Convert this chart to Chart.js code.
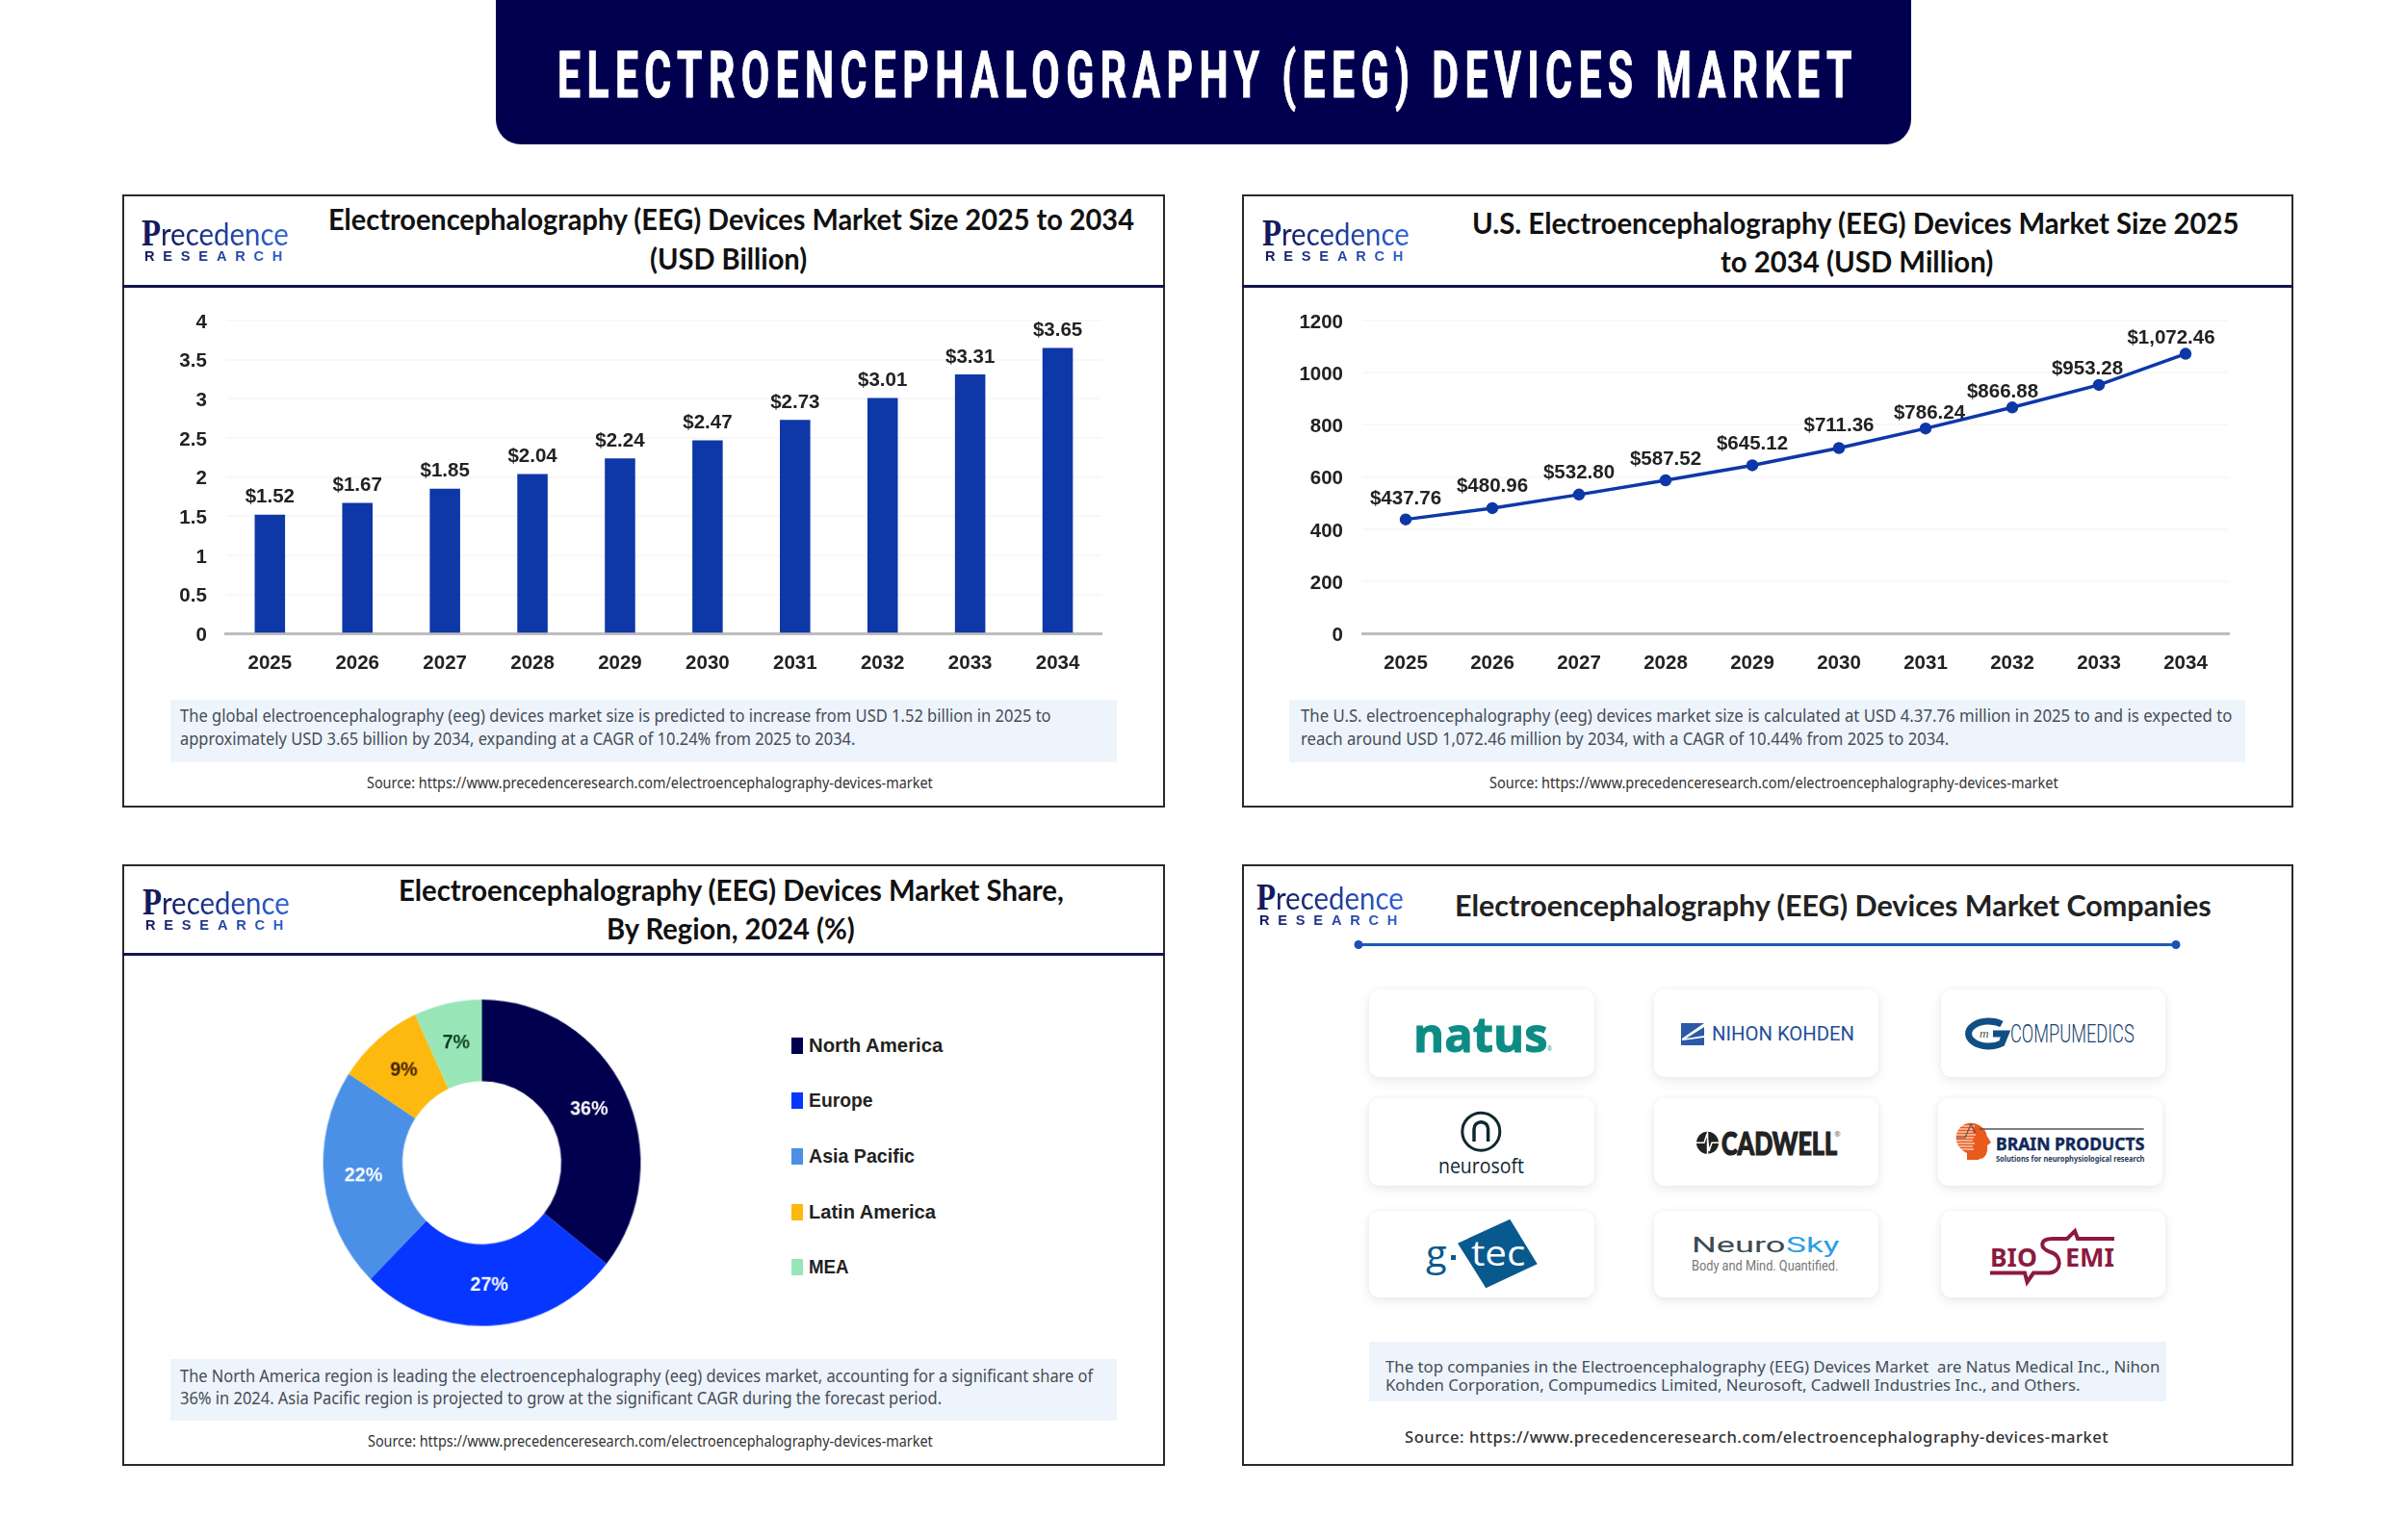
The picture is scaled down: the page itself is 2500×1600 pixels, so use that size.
<!DOCTYPE html>
<html>
<head>
<meta charset="utf-8">
<title>Electroencephalography (EEG) Devices Market</title>
<script src="https://cdn.jsdelivr.net/npm/chart.js@4"></script>
<style>
html, body { margin: 0; padding: 0; background: #fff; }
#page { position: relative; width: 2500px; height: 1600px; overflow: hidden; background: #fff; }
.abs { position: absolute; box-sizing: border-box; }
canvas { position: absolute; }
#banner { background: #00004f; border-radius: 26px; }
.panel { border: 2px solid #2a2a2a; background: #fff; }
.rule { height: 3px; background: #14144f; }
.note { background: #eef4fb; }
.card { background: #fff; border-radius: 11px; box-shadow: 0 4px 12px rgba(40,40,60,.09), 0 0 6px rgba(40,40,60,.04); }
#overlay { position: absolute; left: 0; top: 0; }
.line { position: absolute; white-space: nowrap; line-height: 1; transform-origin: left center; }
.head { font: 700 67px Roboto, sans-serif; letter-spacing: 10px; color: #fff; -webkit-text-stroke: 1px #fff; }
.title { font: 700 31px Lato, sans-serif; color: #111; }
.title4 { font: 700 31px Lato, sans-serif; color: #222; }
.body { font: 400 17.5px "Noto Sans", sans-serif; color: #454d58; }
.src { font: 400 15.5px "Noto Sans", sans-serif; color: #333; }
.src4 { font: 500 16px "Noto Sans", sans-serif; color: #333; letter-spacing: .5px; }
.legend { font: 700 19.6px "Liberation Sans", sans-serif; color: #222; }
.lgP { font: 700 41px "Liberation Serif", serif; color: #141a5e; }
.lgTop { font: 400 33px Lato, sans-serif; color: transparent; background: linear-gradient(90deg, #141a5e, #2f63d8); -webkit-background-clip: text; background-clip: text; }
.lgBot { font: 700 15px "Liberation Sans", sans-serif; letter-spacing: 9px; color: transparent; background: linear-gradient(90deg, #141a5e, #2f63d8); -webkit-background-clip: text; background-clip: text; }
</style>
</head>
<body>
<div id="page">
  <svg id="overlay" width="2500" height="1600" style="z-index:2">
    <!-- companies divider -->
    <line x1="1411" y1="981.5" x2="2260" y2="981.5" stroke="#1c5cb8" stroke-width="3"/>
    <circle cx="1411" cy="981.5" r="4.5" fill="#1c4fb8"/>
    <circle cx="2260" cy="981.5" r="4.5" fill="#1c4fb8"/>
    <!-- nihon kohden mark -->
    <rect x="1746" y="1063" width="24" height="23" fill="#2a5aa8"/>
    <polygon points="1770,1063 1770,1067 1751,1079 1770,1076 1770,1078 1747,1081 1747,1079" fill="#fff"/>
    <!-- compumedics mark -->
    <path d="M2079 1064 A21 13 0 1 0 2079 1084 L2083 1074 H2070" fill="none" stroke="#0f4f85" stroke-width="7"/>
    <!-- neurosoft mark -->
    <circle cx="1538.3" cy="1175.7" r="19.5" fill="none" stroke="#10282e" stroke-width="3"/>
    <path d="M1531 1186 V1173 a7.3 7.3 0 0 1 14.6 0 V1186" fill="none" stroke="#10282e" stroke-width="3.5"/>
    <!-- cadwell mark -->
    <circle cx="1773.5" cy="1187.3" r="11.5" fill="#222"/>
    <path d="M1762 1187.3 H1770 L1773 1178 L1775 1196 L1778 1187.3 H1785 M1773.5 1176 V1199" fill="none" stroke="#fff" stroke-width="1.5"/>
    <!-- brain products mark -->
    <path d="M2046.7 1166.7 C2056 1167 2063 1173 2063.5 1180 L2068 1187 L2064 1190 C2065 1197 2062 1204 2056 1204 L2055 1205 H2043 L2043 1198 C2034 1194 2031 1186 2031.7 1180 C2033 1172 2039 1167 2046.7 1166.7 Z" fill="#ea5a1c"/>
    <path d="M2031 1170 H2051 M2031 1173 H2050 M2031 1176 H2049 M2031 1179 H2052 M2031 1182 H2050 M2031 1185 H2049 M2031 1188 H2051 M2031 1191 H2049 M2031 1194 H2050" stroke="#fff" stroke-width="1.2"/>
    <path d="M2032 1182 H2041 L2047 1168 L2052 1177" fill="none" stroke="#555" stroke-width="1.2"/>
    <line x1="2056" y1="1173" x2="2226.7" y2="1173" stroke="#555" stroke-width="1.5"/>
    <!-- g.tec mark -->
    <polygon points="1568.3,1266.7 1596.7,1313.3 1543.3,1338.3 1514,1291.7" fill="#085a8e"/>
    <rect x="1507" y="1304" width="5" height="5" fill="#085a8e"/>
    <!-- biosemi mark -->
    <path d="M2067 1322.5 H2103 L2105.5 1332 L2112 1322.5 H2128 C2142 1322 2142 1304 2130 1301 C2118 1297 2118 1287 2132 1287 H2147 L2155 1279 L2158 1287 H2196" fill="none" stroke="#8c1a3f" stroke-width="4"/>
  </svg>
</div>

<script>
const years = ["2025","2026","2027","2028","2029","2030","2031","2032","2033","2034"];
const marketSizeBillion = [1.52, 1.67, 1.85, 2.04, 2.24, 2.47, 2.73, 3.01, 3.31, 3.65];
const usMarketSizeMillion = [437.76, 480.96, 532.80, 587.52, 645.12, 711.36, 786.24, 866.88, 953.28, 1072.46];
const regions = ["North America","Europe","Asia Pacific","Latin America","MEA"];
const regionShares = [36, 27, 22, 9, 7];
const regionColors = ["#00004f","#0636ff","#4a90e6","#fdb90f","#98e6b8"];
const regionLabelColors = ["#fff","#fff","#fff","#3a1c00","#0b3d20"];

const page = document.getElementById("page");
const BLUE = "#0e37a8";
const LABEL_FONT = '700 20.5px "Liberation Sans", sans-serif';
const TICK_COLOR = "#222";

function box(cls, x, y, w, h) {
    const el = document.createElement("div");
    el.className = "abs " + cls;
    el.style.left = x + "px";
    el.style.top = y + "px";
    if (w) el.style.width = w + "px";
    if (h) el.style.height = h + "px";
    page.appendChild(el);
    return el;
}

// one line of text squeezed to span x1..x2, centred on y
function line(text, cls, x1, x2, y, extra) {
    const el = document.createElement("span");
    el.className = "line " + cls;
    el.textContent = text;
    el.style.left = x1 + "px";
    el.style.top = y + "px";
    el.style.zIndex = 3;
    if (extra) el.style.cssText += extra;
    page.appendChild(el);
    const k = (x2 - x1) / el.offsetWidth;
    el.style.transform = `translateY(-50%) scaleX(${k})`;
    return el;
}

function logo(x, y) {
    line("P", "lgP", x, x + 20, y + 13);
    line("recedence", "lgTop", x + 20, x + 153, y + 14);
    line("RESEARCH", "lgBot", x + 3, x + 155, y + 37);
}

// panels
box("", 515, -30, 1470, 180).id = "banner";
line("ELECTROENCEPHALOGRAPHY (EEG) DEVICES MARKET", "head", 579, 1930, 78);

box("panel", 126.5, 202, 1083, 637);
box("panel", 1290, 202, 1092, 637);
box("panel", 126.5, 898, 1083, 625);
box("panel", 1290, 898, 1092, 625);
box("rule", 126.5, 296, 1083);
box("rule", 1290, 296, 1092);
box("rule", 126.5, 990, 1083);

logo(147, 228);
logo(1311, 228);
logo(148, 923);
logo(1305, 918);

line("Electroencephalography (EEG) Devices Market Size 2025 to 2034", "title", 341, 1178, 227);
line("(USD Billion)", "title", 675, 838, 268);
line("U.S. Electroencephalography (EEG) Devices Market Size 2025", "title", 1529, 2325, 231);
line("to 2034 (USD Million)", "title", 1787, 2070, 271);
line("Electroencephalography (EEG) Devices Market Share,", "title", 414, 1105, 924);
line("By Region, 2024 (%)", "title", 630, 888, 964);
line("Electroencephalography (EEG) Devices Market Companies", "title4", 1511, 2297, 940);

// summary boxes and source lines
box("note", 177, 727, 983, 65);
line("The global electroencephalography (eeg) devices market size is predicted to increase from USD 1.52 billion in 2025 to", "body", 187, 1092, 743);
line("approximately USD 3.65 billion by 2034, expanding at a CAGR of 10.24% from 2025 to 2034.", "body", 187, 888, 767);
line("Source: https://www.precedenceresearch.com/electroencephalography-devices-market", "src", 381, 969, 813);

box("note", 1339, 727, 993, 65);
line("The U.S. electroencephalography (eeg) devices market size is calculated at USD 4.37.76 million in 2025 to and is expected to", "body", 1351, 2318, 743);
line("reach around USD 1,072.46 million by 2034, with a CAGR of 10.44% from 2025 to 2034.", "body", 1351, 2024, 767);
line("Source: https://www.precedenceresearch.com/electroencephalography-devices-market", "src", 1547, 2138, 813);

box("note", 177, 1412, 983, 64);
line("The North America region is leading the electroencephalography (eeg) devices market, accounting for a significant share of", "body", 187, 1135, 1428.5);
line("36% in 2024. Asia Pacific region is projected to grow at the significant CAGR during the forecast period.", "body", 187, 978, 1451.5);
line("Source: https://www.precedenceresearch.com/electroencephalography-devices-market", "src", 382, 969, 1497);

box("note", 1422, 1394, 828, 62);
line("The top companies in the Electroencephalography (EEG) Devices Market  are Natus Medical Inc., Nihon", "body", 1439, 2243, 1420, "white-space:pre;font-size:16px");
line("Kohden Corporation, Compumedics Limited, Neurosoft, Cadwell Industries Inc., and Others.", "body", 1439, 2161, 1439, "font-size:16px");
line("Source: https://www.precedenceresearch.com/electroencephalography-devices-market", "src4", 1459, 2190, 1492.5);

// legend of the share chart
const legendRows = [1086, 1143, 1201, 1259, 1316];
const legendRight = [979, 907, 950, 972, 882];
regions.forEach((name, i) => {
    const sw = box("", 822, legendRows[i] - 8, 12, 17);
    sw.style.background = regionColors[i];
    line(name, "legend", 840, legendRight[i], legendRows[i]);
});

// company cards
const cardCols = [1422, 1718, 2016];
const cardRows = [[1028, 91], [1141, 91], [1258, 90]];
cardRows.forEach(r => cardCols.forEach((c, i) => box("card", i === 2 && r[0] === 1141 ? 2013 : c, r[0], i === 0 ? 234 : 233, r[1])));

line("natus", "", 1468, 1607, 1074, 'font:700 50px "Open Sans",sans-serif;color:#0c8c84;-webkit-text-stroke:1px #0c8c84');
line("®", "", 1607, 1612, 1089, 'font:400 7px "Open Sans",sans-serif;color:#0c8c84');
line("NIHON KOHDEN", "", 1778, 1926, 1074, 'font:400 20px Roboto,sans-serif;color:#1f4f9a');
line("COMPUMEDICS", "", 2088, 2217, 1074, 'font:300 25px Roboto,sans-serif;color:#173f6e');
line("m", "", 2056, 2066, 1074, 'font:italic 400 12px "Liberation Serif",serif;color:#555');
line("neurosoft", "", 1494, 1583, 1211, 'font:400 21px "Open Sans",sans-serif;color:#10282e');
line("CADWELL", "", 1788, 1908, 1187, 'font:900 32px Lato,sans-serif;color:#222;-webkit-text-stroke:1.2px #222');
line("®", "", 1905, 1912, 1177, 'font:400 8px "Open Sans",sans-serif;color:#555');
line("BRAIN PRODUCTS", "", 2073, 2227, 1188, 'font:700 18px "Noto Sans",sans-serif;color:#10285a;-webkit-text-stroke:.4px #10285a');
line("Solutions for neurophysiological research", "", 2073, 2227, 1203, 'font:700 8px "Noto Sans",sans-serif;color:#2a3a5a');
line("g", "", 1481, 1503, 1301, 'font:400 38px "Open Sans",sans-serif;color:#085a8e');
line("tec", "", 1528, 1584, 1301, 'font:400 36px "Open Sans",sans-serif;color:#fff');
line("Neuro", "", 1757, 1854, 1293, 'font:400 22px Roboto,sans-serif;color:#3c4a50');
line("Sky", "", 1855, 1911, 1293, 'font:400 22px Roboto,sans-serif;color:#2d9ee0');
line("Body and Mind. Quantified.", "", 1757, 1909, 1315, 'font:400 14px Roboto,sans-serif;color:#777');
line("BIO", "", 2067, 2116, 1305, 'font:700 27px "Noto Sans",sans-serif;color:#8c1a3f');
line("EMI", "", 2145, 2196, 1305, 'font:700 27px "Noto Sans",sans-serif;color:#8c1a3f');

function addCanvas(x, y, w, h, cssW, cssH) {
    const c = document.createElement("canvas");
    c.width = w;
    c.height = h;
    c.style.left = x + "px";
    c.style.top = y + "px";
    c.style.zIndex = 2;
    page.appendChild(c);
    return c;
}

const valueLabels = {
    id: "valueLabels",
    afterDatasetsDraw(chart, args, opts) {
        const ctx = chart.ctx;
        ctx.save();
        ctx.font = LABEL_FONT;
        ctx.fillStyle = TICK_COLOR;
        ctx.textAlign = "center";
        ctx.textBaseline = "alphabetic";
        chart.getDatasetMeta(0).data.forEach((el, i) => {
            const s = opts.shifts ? opts.shifts[i] : [0, opts.gap];
            ctx.fillText(opts.text[i], el.x + s[0], el.y - s[1]);
        });
        ctx.restore();
    }
};

const sliceLabels = {
    id: "sliceLabels",
    afterDatasetsDraw(chart) {
        const ctx = chart.ctx;
        ctx.save();
        ctx.font = '700 20px "Liberation Sans", sans-serif';
        ctx.textAlign = "center";
        ctx.textBaseline = "middle";
        chart.getDatasetMeta(0).data.forEach((arc, i) => {
            const p = arc.getCenterPoint();
            ctx.fillStyle = regionLabelColors[i];
            ctx.fillText(regionShares[i] + "%", p.x, p.y);
        });
        ctx.restore();
    }
};

function trendScales(yMax, yStep, yWidth, xHeight) {
    return {
        x: {
            offset: true,
            grid: { display: false, drawTicks: false },
            border: { color: "#bdbdbd", width: 3 },
            ticks: { color: TICK_COLOR, font: { family: '"Liberation Sans"', size: 20.5, weight: "700" }, padding: 18.5, maxRotation: 0, autoSkip: false },
            afterFit: s => { s.height = xHeight; }
        },
        y: {
            min: 0,
            max: yMax,
            grid: { color: "#f8f8f8", lineWidth: 2, drawTicks: false },
            border: { display: false },
            ticks: { stepSize: yStep, color: TICK_COLOR, font: { family: '"Liberation Sans"', size: 20.5, weight: "700" }, padding: 20, labelOffset: 2, callback: v => String(v) },
            afterFit: s => { s.width = yWidth; }
        }
    };
}

new Chart(addCanvas(128, 300, 1078, 420), {
    type: "bar",
    data: { labels: years, datasets: [{ data: marketSizeBillion, backgroundColor: BLUE, barPercentage: 0.347, categoryPercentage: 1 }] },
    options: {
        responsive: false,
        animation: false,
        layout: { padding: { top: 33, right: 62, left: 0, bottom: 0 } },
        scales: trendScales(4, 0.5, 106.85, 61.7),
        plugins: {
            legend: { display: false },
            tooltip: { enabled: false },
            valueLabels: { text: marketSizeBillion.map(v => "$" + v.toFixed(2)), gap: 12.5 }
        }
    },
    plugins: [valueLabels]
});

new Chart(addCanvas(1293, 300, 1088, 420), {
    type: "line",
    data: { labels: years, datasets: [{ data: usMarketSizeMillion, borderColor: BLUE, backgroundColor: BLUE, borderWidth: 3.5, pointRadius: 4.5, tension: 0, clip: false }] },
    options: {
        responsive: false,
        animation: false,
        layout: { padding: { top: 33, right: 66, left: 0, bottom: 0 } },
        scales: trendScales(1200, 200, 122, 61.7),
        plugins: {
            legend: { display: false },
            tooltip: { enabled: false },
            valueLabels: {
                text: usMarketSizeMillion.map(v => "$" + v.toLocaleString("en-US", { minimumFractionDigits: 2 })),
                shifts: [[0, 16], [0, 17], [0, 17], [0, 16], [0, 16], [0, 17], [4, 10], [-10, 10], [-12, 11], [-15, 11]]
            }
        }
    },
    plugins: [valueLabels]
});

// slightly taller than wide, as in the reference
const donutCanvas = addCanvas(303.1, 1004.7, 400, 400);
new Chart(donutCanvas, {
    type: "doughnut",
    data: { labels: regions, datasets: [{ data: regionShares, backgroundColor: regionColors, borderWidth: 0 }] },
    options: {
        responsive: false,
        animation: false,
        cutout: "50%",
        layout: { padding: 33 },
        plugins: { legend: { display: false }, tooltip: { enabled: false } }
    },
    plugins: [sliceLabels]
});
donutCanvas.style.width = "395.2px";
donutCanvas.style.height = "406px";
</script>
</body>
</html>
